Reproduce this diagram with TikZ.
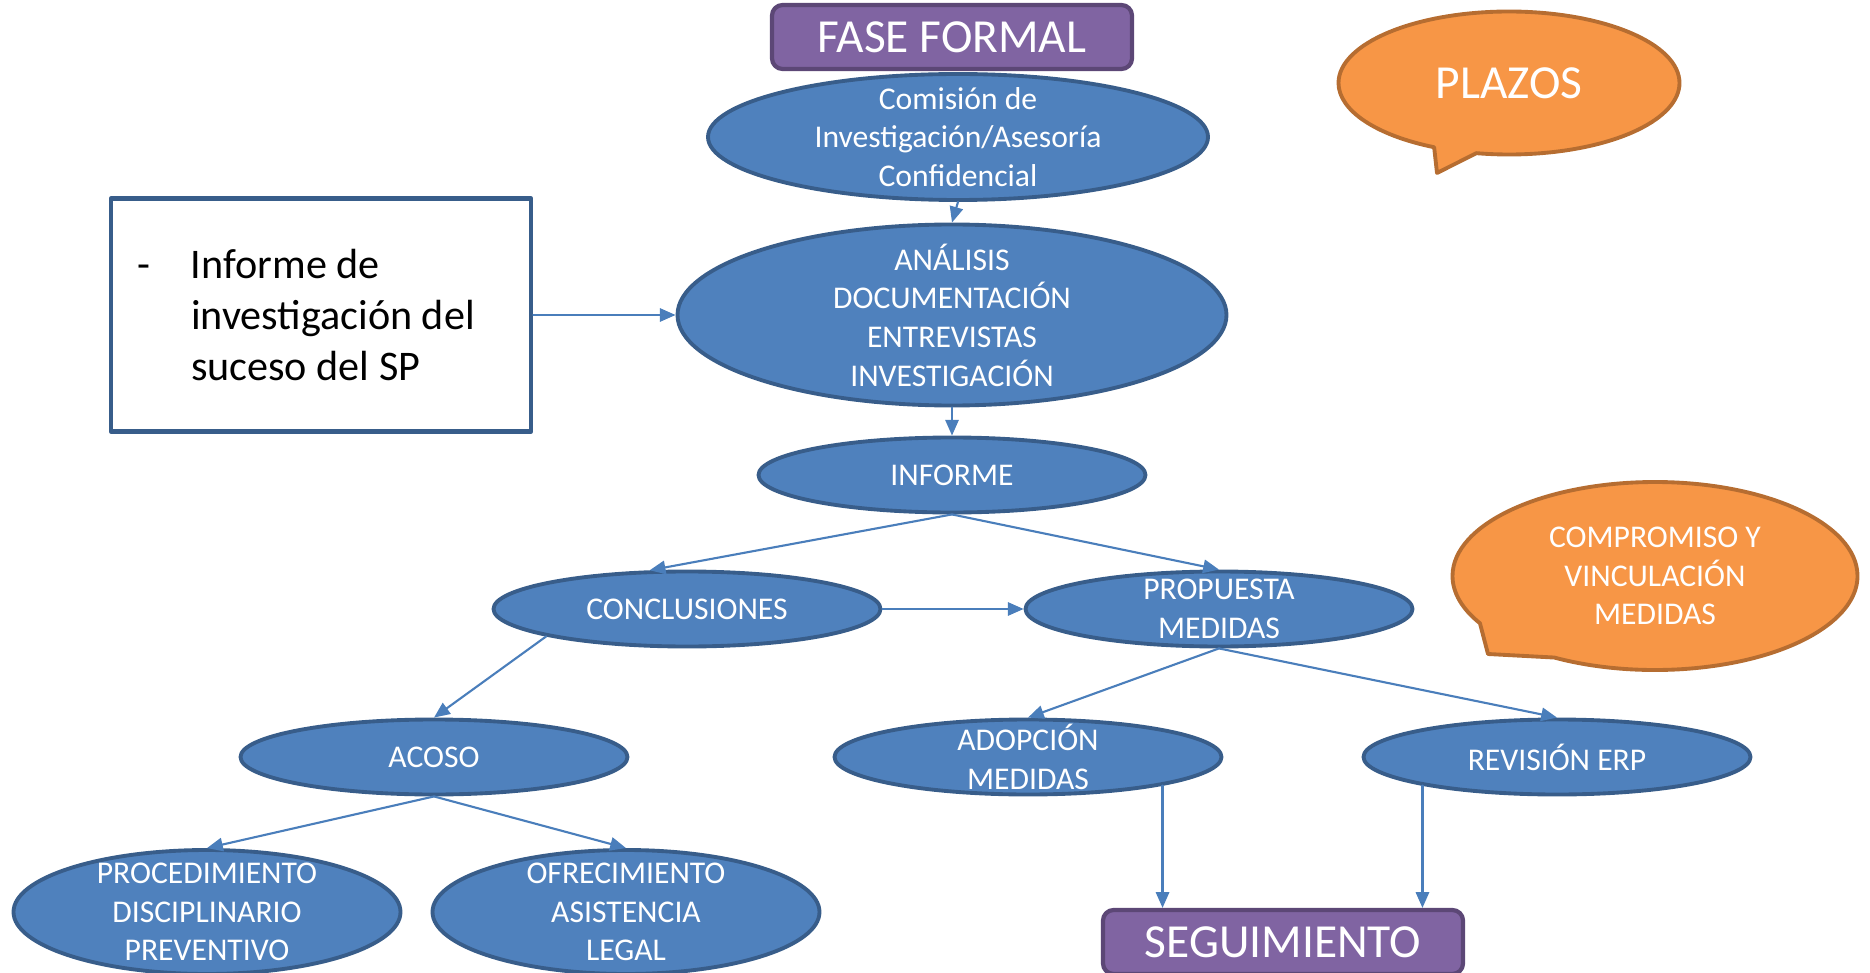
\documentclass[tikz,border=0pt]{standalone}
\usepackage{fontspec}
\setmainfont{Carlito}
\usetikzlibrary{arrows.meta, shapes.geometric, shapes.callouts}

\definecolor{nodeblue}{HTML}{4F81BD}
\definecolor{nodeline}{HTML}{385D8A}
\definecolor{arrowblue}{HTML}{4A7EBB}
\definecolor{phasefill}{HTML}{8064A2}
\definecolor{phaseline}{HTML}{5C4776}
\definecolor{notefill}{HTML}{F79646}
\definecolor{noteline}{HTML}{B66D31}

\begin{document}
\begin{tikzpicture}[x=1cm,y=1cm,line cap=round,line join=round,
  every node/.style={font=\fontsize{9}{11}\selectfont},
  stage/.style={ellipse,draw=nodeline,fill=nodeblue,line width=1.1pt,text=white,
    align=center,inner xsep=0pt,inner ysep=-4pt,minimum width=3.87cm,minimum height=0.75cm},
  phase/.style={rectangle,rounded corners=3pt,draw=phaseline,fill=phasefill,line width=1.2pt,
    text=white,minimum width=3.6cm,minimum height=0.64cm,font=\fontsize{13.5}{16}\selectfont},
  note/.style={ellipse callout,draw=noteline,fill=notefill,line width=1.1pt,text=white,
    align=center,inner sep=0pt},
  flow/.style={draw=arrowblue,line width=0.6pt,-{Triangle[length=4.5pt,width=3.8pt]}}]
  \useasboundingbox (0,0) rectangle (18.70,-9.73);
  % ---- phase labels -------------------------------------------------------
  \node[phase] (fase) at (9.52,-0.37) {FASE FORMAL};
  \node[phase] (seg) at (12.83,-9.42) {SEGUIMIENTO};
  % ---- investigation ------------------------------------------------------
  \node[stage,minimum width=5.00cm,minimum height=1.26cm] (comision) at (9.58,-1.37)
    {Comisión de\\Investigación/Asesoría\\Confidencial};
  \node[stage,minimum width=5.49cm,minimum height=1.81cm] (analisis) at (9.52,-3.15)
    {ANÁLISIS\\DOCUMENTACIÓN\\ENTREVISTAS\\INVESTIGACIÓN};
  \node[stage] (informe) at (9.52,-4.75) {INFORME};
  \node[rectangle,draw=nodeline,fill=white,line width=1.3pt,minimum width=4.20cm,
    minimum height=2.33cm,text width=3.68cm,inner xsep=0.26cm,align=flush left,
    font=\fontsize{12}{14.5}\selectfont] (suceso) at (3.21,-3.15)
    {\makebox[0.54cm][l]{-}Informe de\\\hspace*{0.54cm}investigación del\\\hspace*{0.54cm}suceso del SP};
  % ---- results ------------------------------------------------------------
  \node[stage] (concl) at (6.87,-6.09) {CONCLUSIONES};
  \node[stage] (propuesta) at (12.19,-6.09) {PROPUESTA\\MEDIDAS};
  \node[stage] (acoso) at (4.34,-7.57) {ACOSO};
  \node[stage] (adopcion) at (10.28,-7.57) {ADOPCIÓN\\MEDIDAS};
  \node[stage] (revision) at (15.57,-7.57) {REVISIÓN ERP};
  \node[stage,minimum height=1.24cm] (proc) at (2.07,-9.12)
    {PROCEDIMIENTO\\DISCIPLINARIO\\PREVENTIVO};
  \node[stage,minimum height=1.24cm] (ofrec) at (6.26,-9.12)
    {OFRECIMIENTO\\ASISTENCIA\\LEGAL};
  % ---- callouts -----------------------------------------------------------
  \node[note,minimum width=3.41cm,minimum height=1.43cm,
    callout absolute pointer={(14.37,-1.73)},font=\fontsize{13.5}{16}\selectfont]
    (plazos) at (15.09,-0.83) {PLAZOS};
  \node[note,minimum width=4.05cm,minimum height=1.88cm,callout pointer arc=30,
    callout absolute pointer={(14.88,-6.54)}]
    (compromiso) at (16.55,-5.76) {COMPROMISO Y\\VINCULACIÓN\\MEDIDAS};
  % ---- connectors ---------------------------------------------------------
  \draw[flow] (comision.south) -- (analisis.north);
  \draw[flow] (analisis.south) -- (informe.north);
  \draw[flow] (suceso.east) -- (analisis.west);
  \draw[flow] (informe.south) -- (concl.134);
  \draw[flow] (informe.south) -- (propuesta.north);
  \draw[flow] (concl.east) -- (propuesta.west);
  \draw[flow] (concl.191) -- (acoso.north);
  \draw[flow] (propuesta.south) -- (adopcion.north);
  \draw[flow] (propuesta.south) -- (revision.north);
  \draw[flow] (acoso.south) -- (proc.north);
  \draw[flow] (acoso.south) -- (ofrec.north);
  \draw[flow] (adopcion.-12) -- (adopcion.-12 |- seg.north);
  \draw[flow] (revision.192) -- (revision.192 |- seg.north);
\end{tikzpicture}
\end{document}
